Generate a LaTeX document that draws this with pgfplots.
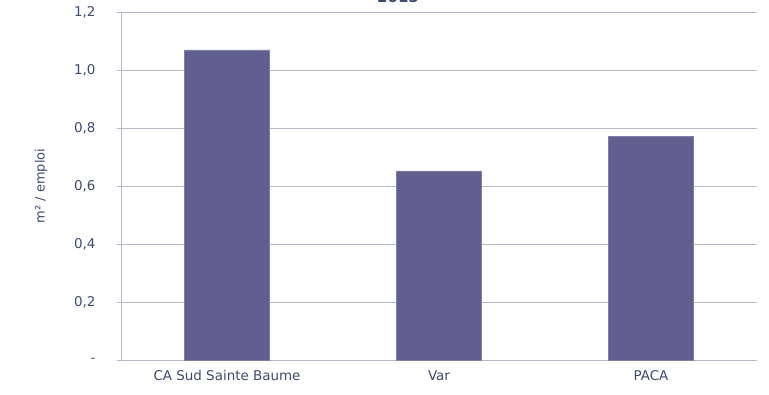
\documentclass[border=0pt]{standalone}
\usepackage{pgfplots}
\pgfplotsset{compat=1.18}
\usepackage{fontspec}
\setmainfont{DejaVu Sans}
\definecolor{barcol}{HTML}{5F5F90}
\definecolor{gridcol}{HTML}{B8B9C8}
\definecolor{txtcol}{HTML}{3E4A6E}
\begin{document}
\begin{tikzpicture}[x=1bp,y=1bp]
\begin{axis}[
    scale only axis,
    width=636bp, height=348bp,
    xmin=-0.5, xmax=2.5,
    ymin=0, ymax=1.2,
    ybar, bar width=0.4,
    xtick={0,1,2},
    xticklabels={CA Sud Sainte Baume, Var, PACA},
    x tick style={draw=none},
    ytick={0,0.2,0.4,0.6,0.8,1.0,1.2},
    yticklabels={-,{0,2},{0,4},{0,6},{0,8},{1,0},{1,2}},
    y tick style={draw=gridcol, line width=0.8pt},
    tick align=outside,
    major tick length=4bp,
    axis x line*=bottom, axis y line*=left,
    axis line style={draw=gridcol, line width=1pt, -},
    ymajorgrids, grid style={draw=gridcol, line width=0.8pt},
    ticklabel style={font=\fontsize{13.5}{15}\selectfont, text=txtcol},
    yticklabel style={xshift=-18bp},
    xticklabel style={yshift=-3bp},
    ylabel={m² / emploi},
    ylabel style={font=\fontsize{13}{15}\selectfont, text=txtcol},
    ylabel shift=20bp,
    clip=false,
]
\addplot[fill=barcol, draw=barcol!80!white] coordinates {(0,1.069) (1,0.652) (2,0.772)};
\coordinate (o) at (rel axis cs:0,0);
\end{axis}
\pgfresetboundingbox
\path[use as bounding box] ([xshift=-121bp,yshift=-35bp]o) rectangle ([xshift=648bp,yshift=360bp]o);
\node[overlay, anchor=base, font=\bfseries\fontsize{15}{16}\selectfont, text=txtcol] at ([xshift=277bp,yshift=357bp]o) {2015};
\end{tikzpicture}
\end{document}
